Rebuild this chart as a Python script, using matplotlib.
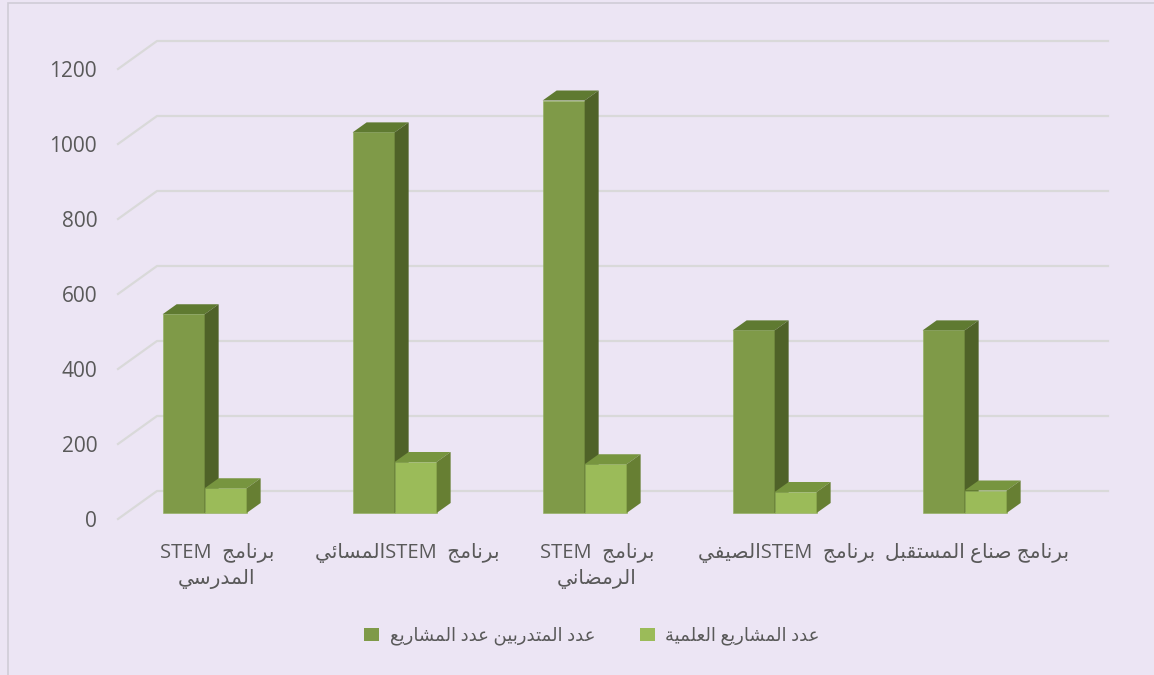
import matplotlib
matplotlib.use("Agg")
import matplotlib.pyplot as plt
from matplotlib.patches import Polygon, Rectangle, Patch

plt.rcParams['font.family'] = ['Open Sans', 'DejaVu Sans']

# data
categories = ["برنامج  STEM\nالمدرسي", "برنامج  STEMالمسائي", "برنامج  STEM\nالرمضاني",
              "برنامج  STEMالصيفي", "برنامج صناع المستقبل"]
series_names = ["عدد المتدربين عدد المشاريع", "عدد المشاريع العلمية"]
trainees = [530, 1015, 1100, 487, 487]
projects = [66, 136, 130, 56, 60]
yticks = [0, 200, 400, 600, 800, 1000, 1200]

# minimal arabic shaping (matplotlib has no bidi / joining)
FORMS = {
    'ا': (0xFE8D, 0xFE8E, None, None), 'ب': (0xFE8F, 0xFE90, 0xFE91, 0xFE92),
    'ة': (0xFE93, 0xFE94, None, None), 'ت': (0xFE95, 0xFE96, 0xFE97, 0xFE98),
    'ج': (0xFE9D, 0xFE9E, 0xFE9F, 0xFEA0), 'د': (0xFEA9, 0xFEAA, None, None),
    'ر': (0xFEAD, 0xFEAE, None, None), 'س': (0xFEB1, 0xFEB2, 0xFEB3, 0xFEB4),
    'ش': (0xFEB5, 0xFEB6, 0xFEB7, 0xFEB8), 'ص': (0xFEB9, 0xFEBA, 0xFEBB, 0xFEBC),
    'ض': (0xFEBD, 0xFEBE, 0xFEBF, 0xFEC0), 'ع': (0xFEC9, 0xFECA, 0xFECB, 0xFECC),
    'ف': (0xFED1, 0xFED2, 0xFED3, 0xFED4), 'ق': (0xFED5, 0xFED6, 0xFED7, 0xFED8),
    'ل': (0xFEDD, 0xFEDE, 0xFEDF, 0xFEE0), 'م': (0xFEE1, 0xFEE2, 0xFEE3, 0xFEE4),
    'ن': (0xFEE5, 0xFEE6, 0xFEE7, 0xFEE8), 'ي': (0xFEF1, 0xFEF2, 0xFEF3, 0xFEF4),
    'ئ': (0xFE89, 0xFE8A, 0xFE8B, 0xFE8C), 'ه': (0xFEE9, 0xFEEA, 0xFEEB, 0xFEEC),
}


def shape(word):
    out = []
    for i, c in enumerate(word):
        if c not in FORMS:
            out.append(c)
            continue
        prev = word[i - 1] if i > 0 else ''
        nxt = word[i + 1] if i + 1 < len(word) else ''
        jp = prev in FORMS and FORMS[prev][2] is not None
        jn = nxt in FORMS and FORMS[c][2] is not None
        iso, fin, ini, med = FORMS[c]
        if jp and jn:
            out.append(chr(med))
        elif jp:
            out.append(chr(fin))
        elif jn:
            out.append(chr(ini))
        else:
            out.append(chr(iso))
    return ''.join(out)


def visual(line):
    # split into latin and arabic runs, lay out right-to-left
    runs = []
    for c in line:
        latin = c.isascii() and c != ' '
        if runs and runs[-1][0] == latin:
            runs[-1][1] += c
        else:
            runs.append([latin, c])
    parts = []
    for latin, txt in reversed(runs):
        parts.append(txt if latin else shape(txt)[::-1])
    return ''.join(parts)


def rtl(text):
    return '\n'.join(visual(l) for l in text.split('\n'))


W, H = 1154, 675
fig = plt.figure(figsize=(W / 100, H / 100), dpi=100)
fig.patch.set_facecolor('#ECE5F4')
fig.add_artist(Rectangle((8 / W, -0.1), 1.2, (H - 3) / H + 0.1, transform=fig.transFigure,
                         fill=False, edgecolor='#D0CCD6', linewidth=1.2))

px_per_unit = 0.375
y_top = 1310
ax = fig.add_axes([118 / W, (H - 519) / H, 990 / W, y_top * px_per_unit / H])
ax.set_facecolor('none')
ax.set_xlim(-0.5, -0.5 + 990 / 190)
ax.set_ylim(0, y_top)

# wall depth (oblique projection)
DX = 39 / 190
DY = 28 / px_per_unit
x_back_end = -0.5 + 990 / 190
for v in yticks:
    ax.plot([-0.5, -0.5 + DX, x_back_end], [v, v + DY, v + DY], color='#D9D9D9',
            linewidth=1.6, zorder=1, clip_on=False)

# bars
bw = 42 / 190
bdx = 14 / 190
bdy = 10 / px_per_unit
base = 6 / px_per_unit
styles = [('#7F9A48', '#5F7A31', '#4F6228', -0.265),
          ('#9BBB59', '#77953F', '#677F33', -0.044)]
for vals, (front, top, side, off) in zip([trainees, projects], styles):
    xs = [i + off for i in range(len(vals))]
    ax.bar(xs, vals, width=bw, bottom=base, align='edge', color=front,
           edgecolor='#8FAE5A', linewidth=0.4, zorder=3)
    for x0, v in zip(xs, vals):
        x1 = x0 + bw
        yt = base + v
        ax.add_patch(Polygon([(x0, yt), (x0 + bdx, yt + bdy), (x1 + bdx, yt + bdy), (x1, yt)],
                             closed=True, facecolor=top, edgecolor='none', zorder=3))
        ax.add_patch(Polygon([(x1, base), (x1 + bdx, base + bdy), (x1 + bdx, yt + bdy), (x1, yt)],
                             closed=True, facecolor=side, edgecolor='none', zorder=3))

for s in ax.spines.values():
    s.set_visible(False)
ax.set_yticks(yticks)
ax.set_yticklabels([str(v) for v in yticks])
ax.set_xticks([i + 0.02 for i in range(len(categories))])
ax.set_xticklabels([rtl(c) for c in categories], linespacing=1.4)
ax.tick_params(axis='y', length=0, pad=15, labelsize=15, labelcolor='#595959')
ax.tick_params(axis='x', length=0, pad=17, labelsize=14.5, labelcolor='#595959')

handles = [Patch(facecolor=styles[0][0]), Patch(facecolor=styles[1][0])]
fig.legend(handles, [rtl(n) for n in series_names], loc='center', ncol=2,
           bbox_to_anchor=(592 / W, (H - 636) / H), frameon=False, fontsize=13,
           labelcolor='#595959', handlelength=0.8, handleheight=0.8,
           handletextpad=0.6, columnspacing=2.5)

fig.savefig('out.png', dpi=100, facecolor=fig.get_facecolor())
